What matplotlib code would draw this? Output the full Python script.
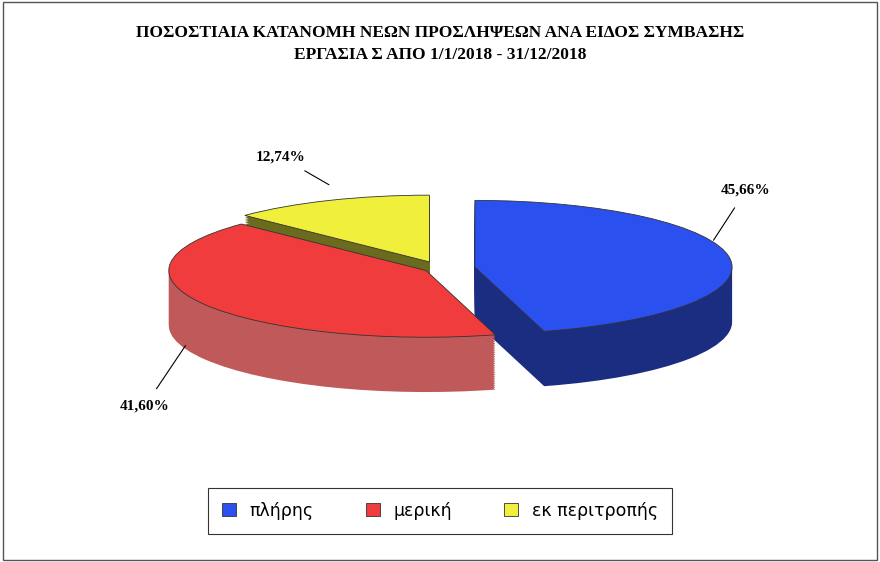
import matplotlib
matplotlib.use("Agg")
import matplotlib.pyplot as plt
import numpy as np
from matplotlib.patches import Rectangle

labels = ["πλήρης", "μερική", "εκ περιτροπής"]
values = [45.66, 41.60, 12.74]
label_texts = ["45,66%", "41,60%", "12,74%"]
top_colors = ["#2b50f0", "#f03c3c", "#f0f03c"]
side_colors = ["#1a2d80", "#c05a5a", "#6b6b20"]
explode = [0.13, 0.06, 0.1]

fig = plt.figure(figsize=(8.8, 5.62), dpi=100)
fig.patches.append(Rectangle((0.003, 0.003), 0.994, 0.994, transform=fig.transFigure,
                             fill=False, edgecolor="#555555", linewidth=1))
fig.text(0.5, 0.955, "ΠΟΣΟΣΤΙΑΙΑ ΚΑΤΑΝΟΜΗ ΝΕΩΝ ΠΡΟΣΛΗΨΕΩΝ ΑΝΑ ΕΙΔΟΣ ΣΥΜΒΑΣΗΣ\nΕΡΓΑΣΙΑ Σ ΑΠΟ 1/1/2018 - 31/12/2018",
         ha="center", va="top", fontsize=12.5, fontweight="bold", family="Liberation Serif", linespacing=1.5)

ax = fig.add_axes([0.1, 0.2, 0.8, 0.6])
depth = 0.78
nlayers = 30
for i in range(nlayers, 0, -1):
    off = -depth * i / nlayers
    ax.pie(values, colors=side_colors, startangle=90, counterclock=False, explode=explode,
           radius=0.95, center=(0, off), wedgeprops=dict(linewidth=0), normalize=True)
wedges, _ = ax.pie(values, colors=top_colors, startangle=90, counterclock=False, explode=explode,
                   radius=0.95, center=(0, 0), wedgeprops=dict(linewidth=0.6, edgecolor="#333333"))
ax.set_aspect("auto")
ax.set_xlim(-1.3, 1.3)
ax.set_ylim(-2.58, 2.22)
ax.axis("off")

label_pos = [(1.13, 1.11), (-1.09, -1.96), (-0.59, 1.59)]
targets = [(1.01, 0.4), (-0.94, -1.1), (-0.41, 1.19)]
for t, p, tg in zip(label_texts, label_pos, targets):
    ax.annotate(t, xy=tg, xytext=p, ha="center", va="center", fontsize=11, fontweight="bold",
                family="Liberation Serif",
                arrowprops=dict(arrowstyle="-", color="black", lw=0.8, shrinkA=7, shrinkB=0))

leg = fig.legend(wedges, labels, loc="lower center", bbox_to_anchor=(0.5, 0.035), ncol=3,
                 frameon=True, fancybox=False, edgecolor="black", fontsize=12.5,
                 handlelength=0.8, handleheight=0.8, columnspacing=3.0, borderpad=0.8)
leg.get_frame().set_linewidth(0.8)
fig.savefig("out.png", dpi=100)
